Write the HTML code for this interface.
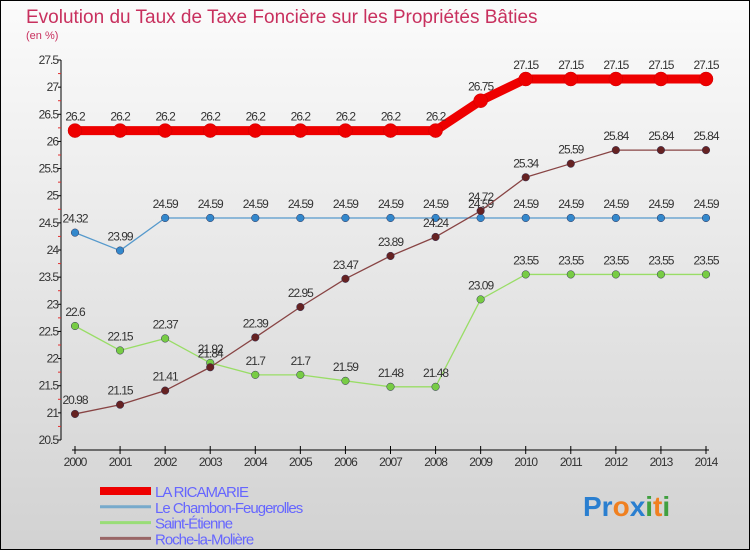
<!DOCTYPE html>
<html><head><meta charset="utf-8"><style>
body{margin:0;}
#c{width:750px;height:550px;}
text{font-family:"Liberation Sans",sans-serif;}
</style></head><body>
<div id="c">
<svg id="s" width="750" height="550" xmlns="http://www.w3.org/2000/svg">
<defs><linearGradient id="bg" x1="0" y1="0" x2="0" y2="1"><stop offset="0" stop-color="#fbfbfb"/><stop offset="1" stop-color="#d2d2d2"/></linearGradient></defs>
<rect x="0.5" y="0.5" width="749" height="549" fill="url(#bg)" stroke="#000"/>
<text x="26" y="23" font-size="19" fill="#c8305e">Evolution du Taux de Taxe Foncière sur les Propriétés Bâties</text>
<text x="26" y="39" font-size="11" fill="#c8305e">(en %)</text>
<g id="axes"></g><g id="series"></g><g id="legend"></g>
<text x="583" y="516" font-size="28" font-weight="bold"><tspan fill="#2a7fd0">Pr</tspan><tspan fill="#f08020">o</tspan><tspan fill="#2a7fd0">x</tspan><tspan fill="#40a040">i</tspan><tspan fill="#f08020">t</tspan><tspan fill="#40a040">i</tspan></text>
</svg></div>
<script>
const years=[2000,2001,2002,2003,2004,2005,2006,2007,2008,2009,2010,2011,2012,2013,2014];
const yTicks=[20.5,21,21.5,22,22.5,23,23.5,24,24.5,25,25.5,26,26.5,27,27.5];
const ricamarie=[26.2,26.2,26.2,26.2,26.2,26.2,26.2,26.2,26.2,26.75,27.15,27.15,27.15,27.15,27.15];
const chambon=[24.32,23.99,24.59,24.59,24.59,24.59,24.59,24.59,24.59,24.59,24.59,24.59,24.59,24.59,24.59];
const etienne=[22.6,22.15,22.37,21.92,21.7,21.7,21.59,21.48,21.48,23.09,23.55,23.55,23.55,23.55,23.55];
const roche=[20.98,21.15,21.41,21.84,22.39,22.95,23.47,23.89,24.24,24.72,25.34,25.59,25.84,25.84,25.84];
const names=["LA RICAMARIE","Le Chambon-Feugerolles","Saint-Étienne","Roche-la-Molière"];
const NS="http://www.w3.org/2000/svg";
const X=i=>75+i*(706-75)/(years.length-1);
const Y=v=>60+(27.5-v)*(380/7);
function mk(p,t,a){const e=document.createElementNS(NS,t);for(const k in a)e.setAttribute(k,a[k]);p.appendChild(e);return e;}
const ax=document.getElementById('axes');
let l=mk(ax,'line',{x1:61,y1:60,x2:61,y2:440,stroke:'#000'});


yTicks.forEach((v,i)=>{
 mk(ax,'line',{x1:58,y1:Y(v),x2:61,y2:Y(v),stroke:'#000'});
 if(i<yTicks.length-1) mk(ax,'line',{x1:58,y1:Y(v+0.25),x2:61,y2:Y(v+0.25),stroke:'#e03030'});
 const t=mk(ax,'text',{x:58,y:Y(v)+4,'font-size':12,'text-anchor':'end',fill:'#333','letter-spacing':'-1'});
 t.textContent=String(v);
 
 
});
l=mk(ax,'line',{x1:72,y1:450,x2:709,y2:450,stroke:'#000'});


years.forEach((y,i)=>{
 mk(ax,'line',{x1:X(i),y1:446,x2:X(i),y2:454,stroke:'#000'});
 const t=mk(ax,'text',{x:X(i),y:466,'font-size':12,'text-anchor':'middle',fill:'#333','letter-spacing':'-1'});
 t.textContent=String(y);
 
 
});
const sg=document.getElementById('series');
const defs=[[ricamarie,'#ee0000','#ee0000',9,7,'ricamarie'],[chambon,'#5599cc','#3388cc',1.3,3.8,'chambon'],[etienne,'#99dd66','#77cc44',1.3,3.8,'saint-etienne'],[roche,'#884444','#662222',1.3,3.8,'roche']];
defs.forEach(([d,lc,pc,w,r,n])=>{
 const p=mk(sg,'polyline',{points:d.map((v,i)=>X(i)+','+Y(v)).join(' '),fill:'none',stroke:lc,'stroke-width':w,'stroke-linejoin':'round'});
 
 
 d.forEach((v,i)=>{
  const c=mk(sg,'circle',{cx:X(i),cy:Y(v),r:r,fill:pc,stroke:w>2?'#cc0000':'#335',"stroke-width":0.5});
  
  
  const t=mk(sg,'text',{x:X(i),y:Y(v)-10,'font-size':12,'text-anchor':'middle',fill:'#333','letter-spacing':'-1'});
  t.textContent=String(v);
  
  
 });
});
const lg=document.getElementById('legend');
const lc=[['#ee0000',8],['#77aacc',3],['#99dd77',3],['#996666',3]];
names.forEach((n,i)=>{
 const y=491+i*15.8;
 const r=mk(lg,'line',{x1:100,y1:y,x2:151,y2:y,stroke:lc[i][0],'stroke-width':lc[i][1]});
 
 
 const t=mk(lg,'text',{x:155,y:y+6,'font-size':15,fill:'#6666ff','letter-spacing':'-1'});
 t.textContent=n;
 
 
});
</script>
</body></html>
